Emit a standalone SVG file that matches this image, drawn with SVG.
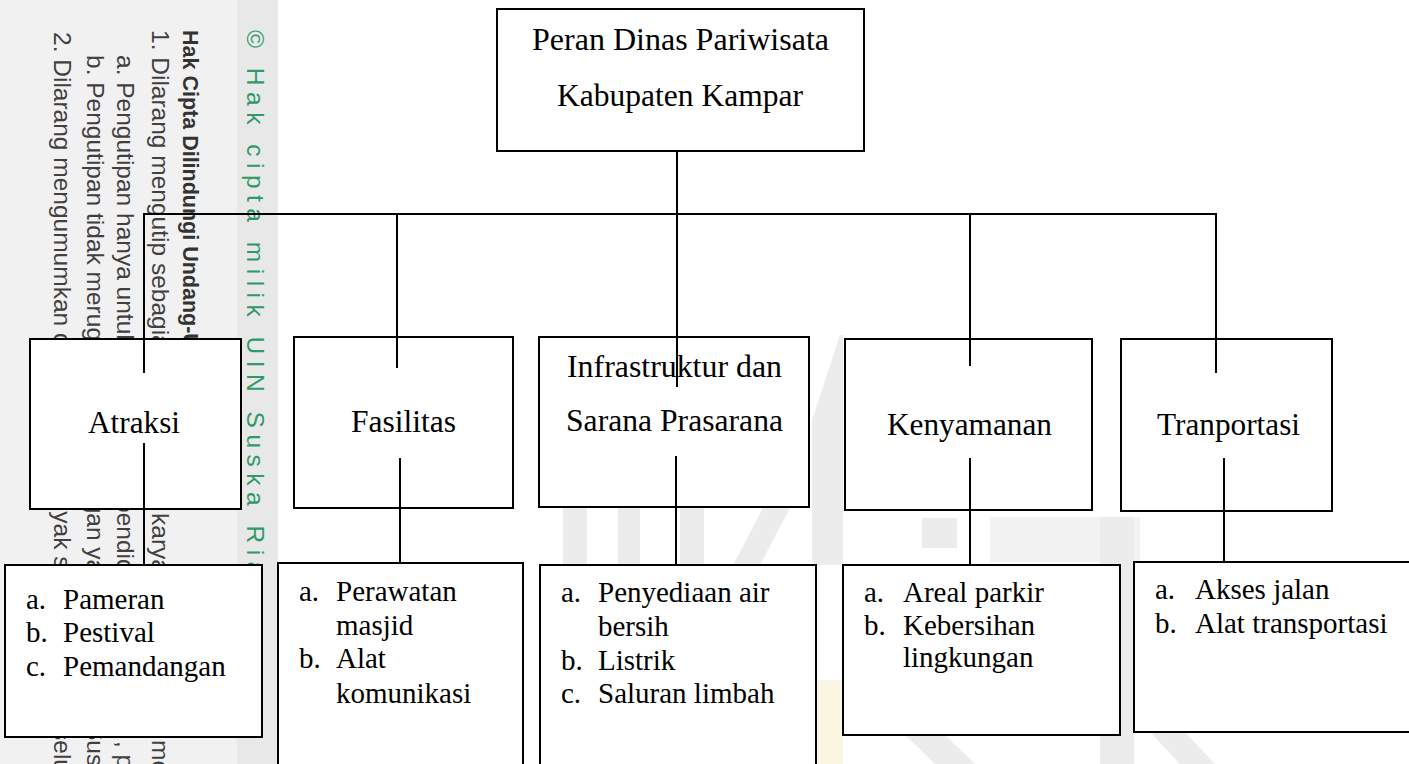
<svg xmlns="http://www.w3.org/2000/svg" width="1409" height="764" viewBox="0 0 1409 764">
  <style>
    .box { fill: #ffffff; stroke: #000000; stroke-width: 2; }
    .lbl { font-family: "Liberation Serif", "Times New Roman", serif; font-size: 31.5px; fill: #000000; }
    .li { font-family: "Liberation Serif", "Times New Roman", serif; font-size: 29px; fill: #000000; }
    .conn { fill: none; stroke: #000000; stroke-width: 2; }
    .wm { font-family: "Liberation Sans", Arial, sans-serif; font-size: 24.5px; fill: #404040; }
    .wmb { font-family: "Liberation Sans", Arial, sans-serif; font-size: 21.5px; font-weight: bold; fill: #333333; }
    .wmg { font-family: "Liberation Sans", Arial, sans-serif; font-size: 24.5px; fill: #2f9a68; letter-spacing: 6.5px; }
    .logo { fill: #ececec; }
  </style>
  <rect x="0" y="0" width="1409" height="764" fill="#ffffff"/>

  <g id="watermark">
    <rect x="0" y="0" width="237" height="764" fill="#f1f1f1"/>
    <rect x="237" y="0" width="41" height="764" fill="#e8e8e8"/>
    <text class="wmg" transform="translate(247,30) rotate(90)">© Hak cipta milik UIN Suska Riau</text>
    <text class="wmb" transform="translate(183,30) rotate(90)">Hak Cipta Dilindungi Undang-Undang</text>
    <text class="wm" transform="translate(152,30) rotate(90)">1. Dilarang mengutip sebagian atau seluruh</text>
    <text class="wm" transform="translate(152,513) rotate(90)">karya tulis ini tanpa</text>
    <text class="wm" transform="translate(152,740) rotate(90)">mencantumkan dan menyebutkan sumber:</text>
    <text class="wm" transform="translate(117,55) rotate(90)">a. Pengutipan hanya untuk kepentingan</text>
    <text class="wm" transform="translate(117,499) rotate(90)">pendidikan</text>
    <text class="wm" transform="translate(117,741) rotate(90)">, penelitian, penulisan karya ilmiah</text>
    <text class="wm" transform="translate(87,55) rotate(90)">b. Pengutipan tidak merugikan</text>
    <text class="wm" transform="translate(87,407) rotate(90)">kepentingan yang wajar</text>
    <text class="wm" transform="translate(87,675) rotate(90)">UIN Suska Riau.</text>
    <text class="wm" transform="translate(54,32) rotate(90)">2. Dilarang mengumumkan dan memperbanyak sebagian atau</text>
    <text class="wm" transform="translate(54,728) rotate(90)">seluruh karya tulis ini</text>
  </g>

  <g id="background-logo">
    <rect class="logo" x="563" y="508" width="24" height="57"/>
    <rect class="logo" x="618" y="508" width="22" height="57"/>
    <rect class="logo" x="680" y="508" width="24" height="57"/>
    <polygon class="logo" points="733,565 763,508 790,508 760,565"/>
    <polygon class="logo" points="812,420 840,335 843,335 843,565 816,565 812,560"/>
    <rect class="logo" x="922" y="518" width="35" height="30"/>
    <rect x="990" y="517" width="150" height="45" fill="#f2f2f2"/>
    <rect class="logo" x="1100" y="517" width="34" height="247"/>
    <rect x="816" y="680" width="27" height="84" fill="#faf6e2"/>
    <polygon class="logo" points="905,735 945,735 975,764 935,764"/>
    <polygon class="logo" points="1150,732 1185,732 1215,764 1180,764"/>
  </g>

  <g id="node-root">
    <rect class="box" x="497" y="9" width="367" height="142"/>
    <text class="lbl" x="532" y="50" textLength="297" lengthAdjust="spacingAndGlyphs">Peran Dinas Pariwisata</text>
    <text class="lbl" x="557" y="106" textLength="246" lengthAdjust="spacingAndGlyphs">Kabupaten Kampar</text>
  </g>

  <g id="node-atraksi">
    <rect class="box" x="30" y="339" width="211" height="170"/>
    <text class="lbl" x="88" y="433" textLength="92" lengthAdjust="spacingAndGlyphs">Atraksi</text>
  </g>
  <g id="node-fasilitas">
    <rect class="box" x="294" y="337" width="219" height="171"/>
    <text class="lbl" x="351" y="432" textLength="105" lengthAdjust="spacingAndGlyphs">Fasilitas</text>
  </g>
  <g id="node-infrastruktur">
    <rect class="box" x="539" y="337" width="270" height="170"/>
    <text class="lbl" x="567" y="377" textLength="215" lengthAdjust="spacingAndGlyphs">Infrastruktur dan</text>
    <text class="lbl" x="566" y="431" textLength="217" lengthAdjust="spacingAndGlyphs">Sarana Prasarana</text>
  </g>
  <g id="node-kenyamanan">
    <rect class="box" x="845" y="339" width="247" height="171"/>
    <text class="lbl" x="887" y="435" textLength="165" lengthAdjust="spacingAndGlyphs">Kenyamanan</text>
  </g>
  <g id="node-tranportasi">
    <rect class="box" x="1121" y="339" width="211" height="172"/>
    <text class="lbl" x="1157" y="435" textLength="143" lengthAdjust="spacingAndGlyphs">Tranportasi</text>
  </g>

  <g id="list-atraksi">
    <rect class="box" x="5" y="565" width="257" height="172"/>
    <text class="li" x="26" y="609">a.</text><text class="li" x="63" y="609">Pameran</text>
    <text class="li" x="26" y="642">b.</text><text class="li" x="63" y="642">Pestival</text>
    <text class="li" x="26" y="676">c.</text><text class="li" x="63" y="676">Pemandangan</text>
  </g>
  <g id="list-fasilitas">
    <rect class="box" x="278" y="563" width="245" height="210"/>
    <text class="li" x="299" y="601">a.</text><text class="li" x="336" y="601">Perawatan</text>
    <text class="li" x="336" y="635">masjid</text>
    <text class="li" x="299" y="668">b.</text><text class="li" x="336" y="668">Alat</text>
    <text class="li" x="336" y="703">komunikasi</text>
  </g>
  <g id="list-infrastruktur">
    <rect class="box" x="540" y="565" width="276" height="210"/>
    <text class="li" x="561" y="602">a.</text><text class="li" x="598" y="602">Penyediaan air</text>
    <text class="li" x="598" y="636">bersih</text>
    <text class="li" x="561" y="670">b.</text><text class="li" x="598" y="670">Listrik</text>
    <text class="li" x="561" y="703">c.</text><text class="li" x="598" y="703">Saluran limbah</text>
  </g>
  <g id="list-kenyamanan">
    <rect class="box" x="843" y="565" width="277" height="170"/>
    <text class="li" x="864" y="602">a.</text><text class="li" x="903" y="602">Areal parkir</text>
    <text class="li" x="864" y="635">b.</text><text class="li" x="903" y="635">Kebersihan</text>
    <text class="li" x="903" y="667">lingkungan</text>
  </g>
  <g id="list-tranportasi">
    <rect class="box" x="1134" y="562" width="290" height="170"/>
    <text class="li" x="1155" y="599">a.</text><text class="li" x="1195" y="599">Akses jalan</text>
    <text class="li" x="1155" y="633">b.</text><text class="li" x="1195" y="633">Alat transportasi</text>
  </g>

  <g id="connectors">
    <path class="conn" d="M677 151 V387"/>
    <path class="conn" d="M144 373 V214 H1216 V373"/>
    <path class="conn" d="M397 214 V368"/>
    <path class="conn" d="M970 214 V366"/>
    <path class="conn" d="M144 443 V565"/>
    <path class="conn" d="M400 458 V563"/>
    <path class="conn" d="M676 456 V565"/>
    <path class="conn" d="M970 458 V565"/>
    <path class="conn" d="M1224 458 V562"/>
  </g>
</svg>
